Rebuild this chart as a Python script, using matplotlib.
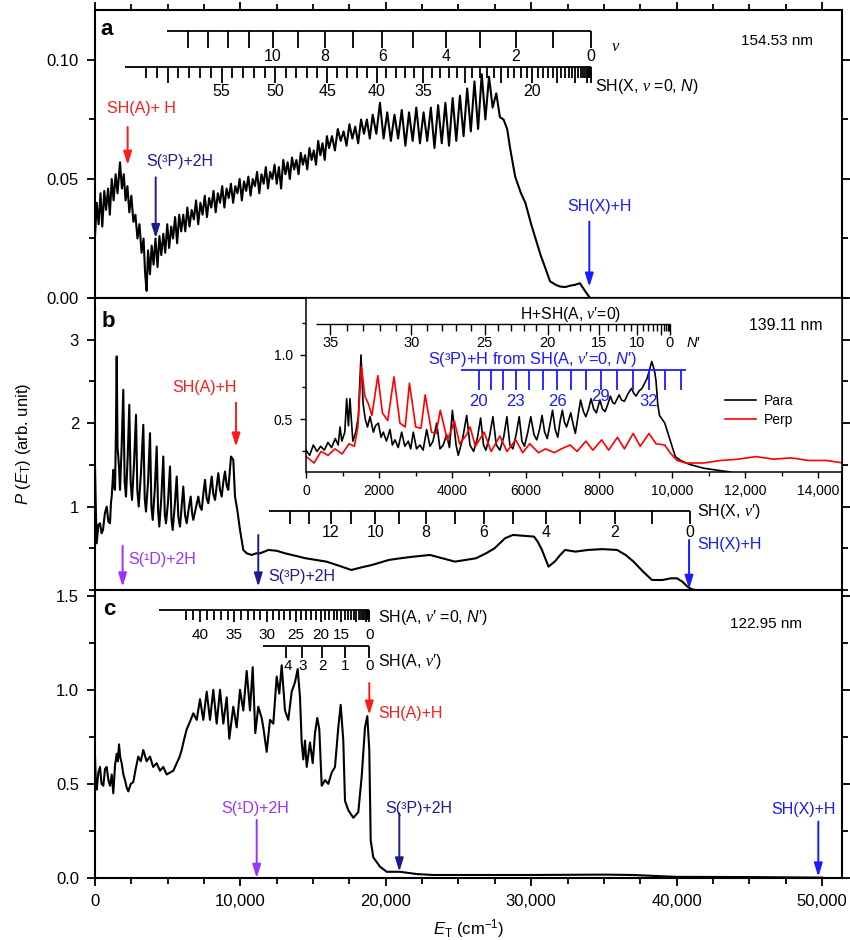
import numpy as np
import matplotlib
matplotlib.use('Agg')
import matplotlib.pyplot as plt
from matplotlib.ticker import MultipleLocator, FuncFormatter

plt.rcParams['font.family'] = ['Liberation Sans', 'DejaVu Sans']
plt.rcParams['mathtext.fontset'] = 'custom'
plt.rcParams['mathtext.rm'] = 'Liberation Sans'
plt.rcParams['mathtext.it'] = 'Liberation Sans:italic'
plt.rcParams['mathtext.bf'] = 'Liberation Sans:bold'
plt.rcParams['mathtext.cal'] = 'Liberation Serif:italic'

# ---------------- data ----------------
# panel a, 154.53 nm
a_E = [0, 120, 250, 380, 500, 640, 760, 900, 1020, 1150, 1280, 1420, 1550, 1720, 1850, 1980, 2100, 2230,
       2360, 2500, 2640, 2780, 2920, 3060, 3200, 3340, 3450, 3550, 3650, 3780, 3900, 4030, 4160, 4300,
       4430, 4560, 4700, 4830, 4970, 5100, 5240, 5370, 5510, 5650, 5790, 5930, 6070, 6210, 6350, 6500,
       6650, 6800, 6950, 7100, 7250, 7400, 7550, 7700, 7850, 8000, 8150, 8300, 8450, 8600, 8750, 8900,
       9050, 9200, 9350, 9500, 9650, 9800, 9950, 10100, 10250, 10400, 10550, 10700, 10850, 11000, 11150,
       11300, 11450, 11600, 11750, 11900, 12050, 12200, 12350, 12500, 12650, 12800, 12950, 13100, 13250,
       13400, 13550, 13700, 13850, 14000, 14150, 14300, 14450, 14600, 14750, 14900, 15050, 15200, 15350,
       15500, 15650, 15800, 15950, 16100, 16300, 16500, 16700, 16900, 17100, 17300, 17500, 17700, 17900,
       18100, 18300, 18500, 18700, 18900, 19100, 19350, 19600, 19850, 20100, 20350, 20600, 20850, 21100,
       21350, 21600, 21850, 22100, 22350, 22600, 22850, 23100, 23350, 23600, 23850, 24100, 24350, 24600,
       24850, 25100, 25350, 25600, 25850, 26100, 26350, 26600, 26850, 27100, 27350, 27600, 27850, 28100,
       28350, 28550, 28900, 29300, 29600, 30000, 30300, 30650, 30950, 31300, 31700, 32000, 32350, 32700,
       33000, 33350, 33700, 34050, 34500]
a_P = [0.026, 0.040, 0.031, 0.044, 0.030, 0.045, 0.037, 0.046, 0.035, 0.050, 0.041, 0.052, 0.044, 0.057,
       0.046, 0.052, 0.041, 0.047, 0.036, 0.043, 0.032, 0.035, 0.025, 0.031, 0.019, 0.025, 0.010, 0.003,
       0.020, 0.010, 0.022, 0.014, 0.025, 0.013, 0.026, 0.018, 0.027, 0.019, 0.031, 0.021, 0.030, 0.025,
       0.034, 0.023, 0.035, 0.028, 0.035, 0.028, 0.038, 0.030, 0.037, 0.033, 0.041, 0.031, 0.040, 0.035,
       0.043, 0.034, 0.042, 0.038, 0.045, 0.036, 0.044, 0.040, 0.047, 0.038, 0.046, 0.042, 0.048, 0.040,
       0.047, 0.044, 0.050, 0.041, 0.049, 0.045, 0.051, 0.043, 0.050, 0.047, 0.053, 0.044, 0.052, 0.048,
       0.055, 0.046, 0.053, 0.050, 0.056, 0.048, 0.055, 0.046, 0.058, 0.052, 0.057, 0.050, 0.059, 0.054,
       0.058, 0.052, 0.061, 0.056, 0.060, 0.054, 0.063, 0.058, 0.062, 0.056, 0.066, 0.060, 0.065, 0.058,
       0.068, 0.063, 0.068, 0.062, 0.071, 0.066, 0.070, 0.064, 0.073, 0.067, 0.072, 0.065, 0.075, 0.069,
       0.075, 0.067, 0.077, 0.069, 0.082, 0.067, 0.078, 0.066, 0.077, 0.067, 0.079, 0.064, 0.078, 0.066,
       0.080, 0.065, 0.078, 0.066, 0.080, 0.063, 0.081, 0.065, 0.082, 0.064, 0.084, 0.066, 0.085, 0.068,
       0.088, 0.070, 0.091, 0.071, 0.094, 0.075, 0.093, 0.080, 0.086, 0.076, 0.075, 0.071, 0.063, 0.051,
       0.044, 0.040, 0.031, 0.025, 0.018, 0.013, 0.007, 0.0055, 0.0048, 0.0046, 0.0052, 0.0055, 0.0062,
       0.003, 0.0, 0.0]

# panel b, 139.11 nm (main trace)
b_E = [0, 60, 117, 230, 344, 450, 550, 680, 805, 920, 1032, 1100, 1149, 1210, 1259, 1320, 1376, 1440,
       1493, 1550, 1603, 1660, 1720, 1830, 1946, 2040, 2132, 2250, 2359, 2450, 2545, 2680, 2820, 2910,
       3006, 3160, 3322, 3420, 3508, 3650, 3783, 3880, 3969, 4110, 4244, 4340, 4423, 4560, 4698, 4800,
       4883, 5020, 5159, 5260, 5344, 5480, 5619, 5730, 5846, 5960, 6073, 6190, 6307, 6450, 6582, 6680,
       6761, 6930, 7105, 7220, 7339, 7450, 7566, 7680, 7793, 7910, 8027, 8140, 8254, 8370, 8480, 8600,
       8714, 8830, 8941, 9060, 9168, 9354, 9512, 9629, 9787, 9973, 10200, 10434, 10785, 11100, 11349,
       11650, 11927, 12500, 13068, 13800, 14499, 15200, 15923, 16800, 17636, 18300, 19052, 20208, 21000,
       21914, 23041, 23900, 24761, 25500, 26198, 26900, 27485, 28200, 28750, 29500, 30194, 30450, 30745,
       31192, 31618, 32000, 32327, 33049, 33909, 34900, 35903, 36500, 37045, 37700, 38310, 39040, 39600,
       40030, 40400, 40752, 41041, 41300]
b_P = [1.48, 0.95, 0.56, 0.78, 0.80, 0.68, 0.72, 0.92, 1.00, 0.82, 0.80, 1.05, 1.12, 1.30, 1.44, 1.22,
       1.20, 1.90, 2.80, 1.70, 1.60, 1.45, 1.20, 1.70, 2.40, 1.30, 1.12, 1.60, 2.22, 1.30, 1.08, 1.50,
       2.10, 1.20, 1.00, 1.40, 1.98, 1.10, 0.94, 1.30, 1.88, 1.00, 0.84, 1.20, 1.72, 0.95, 0.76, 1.10,
       1.60, 0.90, 0.80, 1.05, 1.48, 0.85, 0.72, 1.00, 1.36, 0.88, 0.76, 1.00, 1.24, 0.90, 0.80, 0.98,
       1.12, 0.92, 0.84, 0.98, 1.12, 1.00, 0.96, 1.15, 1.32, 1.10, 1.04, 1.20, 1.36, 1.15, 1.08, 1.25,
       1.40, 1.20, 1.12, 1.30, 1.42, 1.25, 1.20, 1.60, 1.56, 1.12, 0.96, 0.72, 0.48, 0.44, 0.42, 0.44,
       0.44, 0.46, 0.48, 0.47, 0.44, 0.41, 0.38, 0.36, 0.34, 0.29, 0.24, 0.27, 0.30, 0.36, 0.38, 0.40,
       0.42, 0.38, 0.34, 0.36, 0.38, 0.44, 0.50, 0.62, 0.66, 0.65, 0.64, 0.58, 0.48, 0.28, 0.34, 0.42,
       0.48, 0.46, 0.48, 0.49, 0.48, 0.42, 0.34, 0.22, 0.12, 0.12, 0.14, 0.14, 0.10, 0.04, 0.01, 0.0]

# panel b inset, polarisation
para_E = [0, 100, 200, 300, 400, 500, 600, 700, 800, 880, 930, 980, 1060, 1110, 1160, 1200, 1280, 1360,
          1430, 1503, 1560, 1620, 1680, 1750, 1840, 1900, 1976, 2050, 2112, 2200, 2295, 2360, 2432, 2520,
          2614, 2700, 2795, 2860, 2932, 3020, 3115, 3200, 3297, 3388, 3470, 3570, 3661, 3750, 3843, 3920,
          4000, 4100, 4160, 4280, 4390, 4480, 4580, 4680, 4771, 4850, 4915, 5010, 5107, 5200, 5298, 5400,
          5490, 5570, 5653, 5740, 5825, 5900, 5969, 6060, 6142, 6230, 6305, 6380, 6449, 6520, 6592, 6660,
          6736, 6810, 6880, 6940, 7004, 7060, 7119, 7234, 7300, 7359, 7430, 7502, 7580, 7646, 7720, 7790,
          7860, 7934, 8030, 8100, 8173, 8250, 8317, 8380, 8432, 8557, 8620, 8700, 8800, 8892, 8960, 9017,
          9100, 9180, 9250, 9323, 9448, 9520, 9563, 9610, 9659, 9730, 9803, 9880, 9946, 10020, 10090,
          10233, 10473, 10856, 11336, 11600]
para_P = [0.26, 0.22, 0.30, 0.25, 0.29, 0.26, 0.32, 0.28, 0.35, 0.30, 0.44, 0.33, 0.40, 0.66, 0.45, 0.66,
          0.33, 0.40, 0.52, 1.00, 0.62, 0.50, 0.44, 0.52, 0.40, 0.45, 0.47, 0.36, 0.40, 0.33, 0.42, 0.30,
          0.34, 0.28, 0.40, 0.29, 0.33, 0.27, 0.40, 0.27, 0.30, 0.26, 0.42, 0.29, 0.33, 0.47, 0.27, 0.30,
          0.38, 0.28, 0.57, 0.30, 0.22, 0.35, 0.53, 0.30, 0.25, 0.35, 0.51, 0.30, 0.26, 0.36, 0.52, 0.30,
          0.26, 0.36, 0.52, 0.30, 0.27, 0.38, 0.52, 0.33, 0.29, 0.40, 0.52, 0.38, 0.34, 0.42, 0.53, 0.40,
          0.35, 0.45, 0.57, 0.42, 0.36, 0.48, 0.57, 0.48, 0.44, 0.55, 0.46, 0.39, 0.52, 0.65, 0.56, 0.52,
          0.58, 0.66, 0.58, 0.55, 0.65, 0.58, 0.56, 0.62, 0.68, 0.63, 0.62, 0.69, 0.65, 0.64, 0.70, 0.74,
          0.70, 0.68, 0.72, 0.74, 0.78, 0.82, 0.95, 0.88, 0.80, 0.62, 0.53, 0.50, 0.47, 0.40, 0.34, 0.27,
          0.21, 0.18, 0.15, 0.12, 0.10, 0.09]
perp_E = [8, 219, 411, 603, 794, 986, 1178, 1321, 1417, 1513, 1609, 1705, 1801, 1963, 2088, 2232, 2404,
          2567, 2711, 2826, 2998, 3142, 3257, 3430, 3554, 3669, 3861, 3976, 4052, 4196, 4388, 4484, 4628,
          4867, 5059, 5298, 5490, 5730, 5921, 6113, 6353, 6544, 6784, 6975, 7215, 7407, 7646, 7838, 8078,
          8269, 8509, 8700, 8940, 9132, 9371, 9563, 9803, 9946, 10138, 10377, 10856, 11336, 11815, 12294,
          12773, 13252, 13732, 14211, 14690]
perp_P = [0.21, 0.16, 0.25, 0.22, 0.27, 0.23, 0.31, 0.29, 0.44, 0.91, 0.68, 0.62, 0.53, 0.84, 0.55, 0.49,
          0.83, 0.47, 0.44, 0.78, 0.44, 0.43, 0.69, 0.40, 0.39, 0.57, 0.34, 0.42, 0.49, 0.31, 0.38, 0.44,
          0.29, 0.40, 0.25, 0.37, 0.25, 0.34, 0.24, 0.31, 0.24, 0.27, 0.24, 0.27, 0.30, 0.25, 0.33, 0.26,
          0.34, 0.26, 0.36, 0.27, 0.39, 0.29, 0.39, 0.31, 0.30, 0.24, 0.18, 0.16, 0.16, 0.18, 0.19, 0.21,
          0.19, 0.20, 0.18, 0.18, 0.16]

# panel c, 122.95 nm
c_E = [0, 60, 117, 230, 344, 450, 571, 690, 805, 920, 1032, 1150, 1259, 1380, 1493, 1570, 1651, 1740,
       1836, 1950, 2063, 2180, 2290, 2460, 2634, 2800, 2978, 3150, 3322, 3550, 3783, 4000, 4244, 4470,
       4698, 4930, 5159, 5390, 5619, 5800, 5963, 6140, 6307, 6530, 6761, 6995, 7222, 7449, 7683, 7910,
       8137, 8370, 8598, 8825, 9058, 9237, 9512, 9746, 9973, 10200, 10434, 10661, 10847, 11025, 11232,
       11466, 11576, 11810, 12037, 12264, 12497, 12676, 12841, 13068, 13295, 13529, 13756, 13942, 14100,
       14217, 14327, 14444, 14561, 14788, 14974, 15132, 15290, 15428, 15593, 15820, 16047, 16280, 16507,
       16734, 16899, 17078, 17195, 17422, 17766, 18110, 18344, 18571, 18729, 18866, 18963, 19141, 19602,
       20063, 20978, 22126, 23268, 24417, 30000, 35000, 37000, 40000, 45000, 50000]
c_P = [0.645, 0.50, 0.47, 0.56, 0.59, 0.50, 0.49, 0.58, 0.59, 0.52, 0.49, 0.55, 0.45, 0.60, 0.66, 0.62,
       0.71, 0.64, 0.61, 0.55, 0.52, 0.48, 0.46, 0.50, 0.51, 0.58, 0.645, 0.62, 0.68, 0.62, 0.645, 0.59,
       0.61, 0.57, 0.59, 0.55, 0.56, 0.57, 0.61, 0.64, 0.68, 0.74, 0.79, 0.83, 0.875, 0.84, 0.95, 0.84,
       0.99, 0.84, 1.00, 0.82, 1.00, 0.82, 0.96, 0.74, 0.91, 0.80, 1.00, 0.89, 1.10, 0.89, 1.12, 0.77,
       0.91, 0.85, 0.80, 0.67, 0.84, 0.82, 1.07, 0.98, 1.13, 0.89, 0.84, 0.99, 1.04, 1.11, 0.96, 0.72,
       0.63, 0.73, 0.59, 0.72, 0.61, 0.77, 0.85, 0.79, 0.49, 0.52, 0.50, 0.56, 0.59, 0.80, 0.92, 0.73,
       0.41, 0.36, 0.32, 0.35, 0.54, 0.80, 0.86, 0.68, 0.20, 0.11, 0.06, 0.033, 0.033, 0.021, 0.016,
       0.016, 0.016, 0.018, 0.016, 0.006, 0.005, 0.002]

# energy-level combs (cm-1)
a_v = list(range(15))
a_v_E = [34113, 31472, 28954, 26478, 24140, 21891, 19759, 17765, 15818, 13982, 12222, 10612, 9127, 7751, 6376]
a_N = list(range(63))
a_N_E = [34113, 34093, 34054, 33995, 33917, 33819, 33702, 33565, 33409, 33234, 33040, 32827, 32595, 32344,
         32075, 31788, 31482, 31159, 30817, 30458, 30082, 29689, 29279, 28852, 28410, 27951, 27476, 26986,
         26482, 25962, 25428, 24880, 24319, 23745, 23157, 22557, 21946, 21322, 20688, 20043, 19388, 18724,
         18050, 17367, 16677, 15979, 15274, 14562, 13845, 13122, 12394, 11663, 10928, 10190, 9450, 8708,
         7965, 7223, 6480, 5739, 5000, 4264, 3531]
b_v = list(range(15))
b_v_E = [40900, 38310, 35765, 33330, 31050, 28750, 26755, 24760, 22760, 20910, 19290, 17640, 16210, 14700, 13410]
ins_N = list(range(36))
ins_N_E = [9945, 9929, 9896, 9846, 9780, 9698, 9600, 9485, 9355, 9208, 9046, 8868, 8675, 8467, 8243, 8005,
           7753, 7486, 7205, 6911, 6603, 6283, 5950, 5604, 5247, 4878, 4498, 4108, 3708, 3297, 2878, 2450,
           2014, 1570, 1119, 661]
s3p_N = list(range(20, 35))
s3p_E = [4724, 5060, 5374, 5730, 6093, 6478, 6861, 7243, 7648, 8058, 8489, 8921, 9372, 9803, 10235]
c_N = list(range(43))
c_N_E = [18866, 18850, 18817, 18767, 18701, 18619, 18521, 18406, 18276, 18129, 17967, 17789, 17596, 17388,
         17164, 16926, 16674, 16407, 16126, 15832, 15524, 15204, 14871, 14525, 14168, 13799, 13419, 13029,
         12629, 12218, 11799, 11371, 10935, 10491, 10040, 9582, 9119, 8650, 8177, 7700, 7219, 6735, 6250]
c_v = [0, 1, 2, 3, 4]
c_v_E = [18866, 17195, 15634, 14258, 13116]

RED = '#ff1a1a'
NAVY = '#1c1c8c'
BLUE = '#1a1aff'
PURPLE = '#9933ff'
V = r'$\mathcal{v}$'
FS_ANN = 11.5
FS_COMB = 11.5


def comb(ax, q, e, start, y, short, long=None, labels=(), y_lab=None, fs=FS_COMB, color='k', lw=1.3, end=None):
    end = max(e) if end is None else end
    ax.plot([start, end], [y, y], color=color, lw=lw, solid_capstyle='butt')
    lens = [long if (long is not None and qi % 5 == 0) else short for qi in q]
    ax.vlines(e, [y - l for l in lens], y, color=color, lw=lw)
    for qi, ei in zip(q, e):
        if qi in labels:
            ax.text(ei, y_lab, str(qi), ha='center', va='center', fontsize=fs, color=color)


def arrow(ax, x, y0, y1, color):
    ax.annotate('', xy=(x, y1), xytext=(x, y0),
                arrowprops=dict(arrowstyle='-|>,head_length=0.8,head_width=0.25', color=color,
                                lw=1.4, shrinkA=0, shrinkB=0))


fig = plt.figure(figsize=(8.5, 9.4), dpi=100)
gs = fig.add_gridspec(3, 1, left=95/850, right=842/850, bottom=1-878/940, top=1-10/940,
                      hspace=0, height_ratios=[288, 292, 288])
ax_a = fig.add_subplot(gs[0])
ax_b = fig.add_subplot(gs[1], sharex=ax_a)
ax_c = fig.add_subplot(gs[2], sharex=ax_a)

for ax in (ax_a, ax_b, ax_c):
    for s in ax.spines.values():
        s.set_linewidth(1.5)
    ax.tick_params(which='both', direction='out', right=True, top=False, width=1.3,
                   labelsize=12, pad=5.5)
    ax.tick_params(which='major', length=6)
    ax.tick_params(which='minor', length=4)
ax_a.tick_params(axis='x', which='both', top=True)
ax_a.set_xlim(0, 51380)
ax_a.xaxis.set_major_locator(MultipleLocator(10000))
ax_a.xaxis.set_minor_locator(MultipleLocator(5000))
plt.setp(ax_a.get_xticklabels(), visible=False)
plt.setp(ax_b.get_xticklabels(), visible=False)
ax_c.xaxis.set_major_formatter(FuncFormatter(lambda v, p: f'{v:,.0f}'))

# ---------- panel a ----------
ax_a.plot(a_E, a_P, color='k', lw=1.5)
ax_a.set_ylim(0, 0.121)
ax_a.set_yticks([0, 0.05, 0.10])
ax_a.set_yticklabels(['0.00', '0.05', '0.10'])
ax_a.yaxis.set_minor_locator(MultipleLocator(0.025))
comb(ax_a, a_v, a_v_E, 4931, 0.1123, 0.0073, labels=(0, 2, 4, 6, 8, 10), y_lab=0.1013)
ax_a.text(35500, 0.1058, V, fontsize=12, ha='left', va='center')
comb(ax_a, a_N, a_N_E, 2063, 0.0972, 0.0046, 0.0069, labels=(55, 50, 45, 40, 35, 20), y_lab=0.0866)
ax_a.text(34400, 0.0887, 'SH(X, ' + V + ' =0, $N$)', fontsize=FS_COMB, ha='left', va='center')
ax_a.text(46900, 0.1078, '154.53 nm', fontsize=11, ha='center', va='center')
ax_a.text(0.007, 0.913, 'a', transform=ax_a.transAxes, fontsize=16, weight='bold', va='baseline')
ax_a.text(3160, 0.0797, 'SH(A)+ H', color=RED, fontsize=FS_ANN, ha='center', va='center')
arrow(ax_a, 2246, 0.0719, 0.0559, RED)
ax_a.text(5850, 0.0573, 'S(³P)+2H', color=NAVY, fontsize=FS_ANN, ha='center', va='center')
arrow(ax_a, 4173, 0.0507, 0.0251, NAVY)
ax_a.text(34730, 0.0384, 'SH(X)+H', color=BLUE, fontsize=FS_ANN, ha='center', va='center')
arrow(ax_a, 34000, 0.0321, 0.0047, BLUE)

# ---------- panel b ----------
ax_b.plot(b_E, b_P, color='k', lw=1.5)
ax_b.set_ylim(0, 3.5)
ax_b.set_yticks([1, 2, 3])
ax_b.yaxis.set_minor_locator(MultipleLocator(0.5))
ax_b.xaxis.set_minor_locator(MultipleLocator(2500))
ax_b.set_ylabel(r'$P$ ($E_{\mathrm{T}}$) (arb. unit)', fontsize=12)
ax_b.yaxis.set_label_coords(-0.083, 0.5)
comb(ax_b, b_v, b_v_E, 11970, 0.952, 0.16, labels=(0, 2, 4, 6, 8, 10, 12), y_lab=0.684)
ax_b.text(41405, 0.94, 'SH(X, ' + V + '′)', fontsize=FS_COMB, ha='left', va='center')
ax_b.text(0.009, 0.901, 'b', transform=ax_b.transAxes, fontsize=16, weight='bold', va='baseline')
ax_b.text(7500, 2.425, 'SH(A)+H', color=RED, fontsize=FS_ANN, ha='center', va='center')
arrow(ax_b, 9700, 2.245, 1.717, RED)
ax_b.text(2270, 0.36, 'S(¹D)+2H', color=PURPLE, fontsize=FS_ANN, ha='left', va='center')
arrow(ax_b, 1900, 0.53, 0.04, PURPLE)
ax_b.text(11900, 0.156, 'S(³P)+2H', color=NAVY, fontsize=FS_ANN, ha='left', va='center')
arrow(ax_b, 11230, 0.66, 0.04, NAVY)
ax_b.text(41405, 0.54, 'SH(X)+H', color=BLUE, fontsize=FS_ANN, ha='left', va='center')
arrow(ax_b, 40860, 0.60, 0.012, BLUE)

# inset
ins = fig.add_axes([306/850, 1-471.7/940, (842-306)/850, (471.7-298)/940])
for s in ins.spines.values():
    s.set_linewidth(1.1)
ins.plot(para_E, para_P, color='k', lw=1.2, label='Para')
ins.plot(perp_E, perp_P, color='#ff0000', lw=1.2, label='Perp')
ins.set_xlim(0, 14645)
ins.set_ylim(0.0925, 1.443)
ins.set_yticks([0.5, 1.0])
ins.set_yticklabels(['0.5', '1.0'])
ins.yaxis.set_minor_locator(MultipleLocator(0.25))
ins.xaxis.set_major_locator(MultipleLocator(2000))
ins.xaxis.set_minor_locator(MultipleLocator(1000))
ins.xaxis.set_major_formatter(FuncFormatter(lambda v, p: f'{v:,.0f}' if v >= 10000 else f'{v:.0f}'))
ins.tick_params(which='both', direction='out', labelsize=10, width=1.0)
ins.tick_params(which='major', length=4.5)
ins.tick_params(which='minor', length=3)
ins.tick_params(axis='y', pad=5)
ins.tick_params(axis='x', pad=4)
comb(ins, ins_N, ins_N_E, 273, 1.239, 0.055, 0.086, labels=(35, 30, 25, 20, 15, 10, 0), y_lab=1.093,
     fs=10.5, lw=1.0)
ins.text(10383, 1.093, '$N$′', fontsize=10.5, ha='left', va='center')
ins.text(7240, 1.311, 'H+SH(A, ' + V + '′=0)', fontsize=11.3, ha='center', va='center')
ins.text(6202, 0.961, 'S(³P)+H from SH(A, ' + V + '′=0, $N$′)', fontsize=11.8, color=BLUE,
         ha='center', va='center')
comb(ins, s3p_N, s3p_E, 4224, 0.883, 0.155, labels=(20, 23, 26, 32), y_lab=0.637, fs=12,
     color=BLUE, lw=1.3, end=10377)
ins.text(s3p_E[9], 0.676, '29', fontsize=12, color=BLUE, ha='center', va='center')
ins.text(13115, 1.233, '139.11 nm', fontsize=11.3, ha='center', va='center')
ins.legend(frameon=False, fontsize=10, handlelength=2.2, loc='center left',
           bbox_to_anchor=(0.772, 0.353), borderaxespad=0, labelspacing=0.4, handletextpad=0.6)

# ---------- panel c ----------
ax_c.plot(c_E, c_P, color='k', lw=1.5)
ax_c.set_ylim(0, 1.53)
ax_c.set_yticks([0, 0.5, 1.0, 1.5])
ax_c.set_yticklabels(['0.0', '0.5', '1.0', '1.5'])
ax_c.yaxis.set_minor_locator(MultipleLocator(0.25))
ax_c.set_xlabel(r'$E_{\mathrm{T}}$ (cm$^{-1}$)', fontsize=12, labelpad=6)
comb(ax_c, c_N, c_N_E, 4423, 1.422, 0.05, 0.062, labels=(40, 35, 30, 25, 20, 15, 0), y_lab=1.289, fs=11)
ax_c.text(19485, 1.383, 'SH(A, ' + V + '′ =0, $N$′)', fontsize=FS_COMB, ha='left', va='center')
comb(ax_c, c_v, c_v_E, 11534, 1.230, 0.062, labels=(0, 1, 2, 3), y_lab=1.124, fs=11)
ax_c.text(c_v_E[4] + 130, 1.124, '4', fontsize=11, ha='center', va='center')
ax_c.text(19485, 1.150, 'SH(A, ' + V + '′)', fontsize=FS_COMB, ha='left', va='center')
ax_c.text(46150, 1.351, '122.95 nm', fontsize=11, ha='center', va='center')
ax_c.text(0.011, 0.913, 'c', transform=ax_c.transAxes, fontsize=16, weight='bold', va='baseline')
ax_c.text(19485, 0.876, 'SH(A)+H', color=RED, fontsize=FS_ANN, ha='left', va='center')
arrow(ax_c, 18866, 1.036, 0.867, RED)
ax_c.text(11005, 0.371, 'S(¹D)+2H', color=PURPLE, fontsize=FS_ANN, ha='center', va='center')
arrow(ax_c, 11122, 0.309, 0.0, PURPLE)
ax_c.text(19946, 0.371, 'S(³P)+2H', color=NAVY, fontsize=FS_ANN, ha='left', va='center')
arrow(ax_c, 20932, 0.344, 0.034, NAVY)
ax_c.text(48720, 0.365, 'SH(X)+H', color=BLUE, fontsize=FS_ANN, ha='center', va='center')
arrow(ax_c, 49750, 0.30, 0.007, BLUE)

fig.savefig('out.png', dpi=100)
